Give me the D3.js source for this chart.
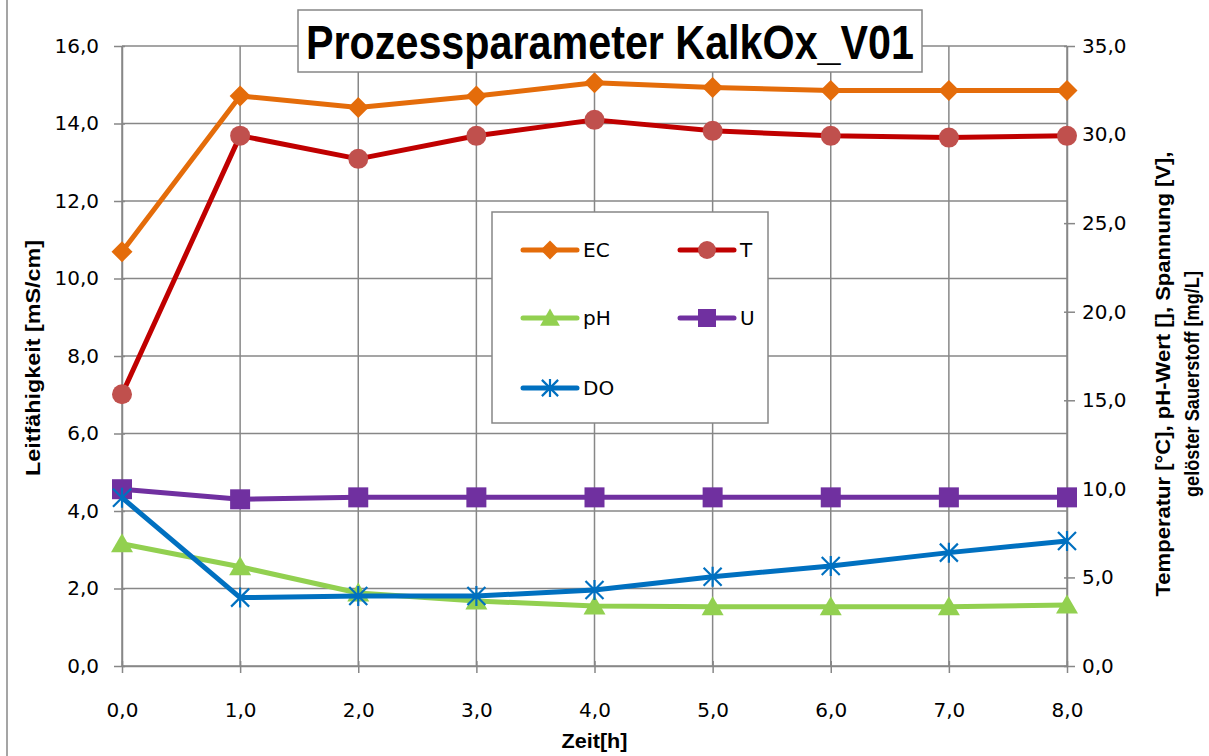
<!DOCTYPE html>
<html>
<head>
<meta charset="utf-8">
<script src="https://cdn.jsdelivr.net/npm/d3@7"></script>
<style>
  html, body { margin: 0; padding: 0; background: #ffffff; }
  svg { display: block; }
</style>
</head>
<body>
<svg id="chart" width="1209" height="756"></svg>
<script>
// ---- data ----
const hours = [0, 1, 2, 3, 4, 5, 6, 7, 8];
const ecValues = [10.69, 14.71, 14.41, 14.71, 15.05, 14.93, 14.85, 14.85, 14.85];
const tValues  = [15.34, 29.94, 28.63, 29.93, 30.83, 30.21, 29.93, 29.83, 29.93];
const phValues = [6.9, 5.6, 4.12, 3.67, 3.39, 3.35, 3.35, 3.35, 3.44];
const uValues  = [9.98, 9.41, 9.52, 9.52, 9.52, 9.52, 9.52, 9.52, 9.52];
const doValues = [9.5, 3.86, 3.95, 3.95, 4.29, 5.04, 5.65, 6.4, 7.06];
const leftTicks = [0, 2, 4, 6, 8, 10, 12, 14, 16];
const rightTicks = [0, 5, 10, 15, 20, 25, 30, 35];
const xTicks = [0, 1, 2, 3, 4, 5, 6, 7, 8];
const titleText = "Prozessparameter KalkOx_V01";
const leftTitle = "Leitfähigkeit [mS/cm]";
const rightTitle1 = "Temperatur [°C],  pH-Wert [], Spannung [V],";
const rightTitle2 = "gelöster Sauerstoff [mg/L]";
const xTitle = "Zeit[h]";

const series = [
  { name: "EC", values: ecValues, axis: "left",  line: "#E46C0A", fill: "#E46C0A", marker: "diamond" },
  { name: "T",  values: tValues,  axis: "right", line: "#C00000", fill: "#C0504D", marker: "circle" },
  { name: "pH", values: phValues, axis: "right", line: "#92D050", fill: "#92D050", marker: "triangle" },
  { name: "U",  values: uValues,  axis: "right", line: "#7030A0", fill: "#7030A0", marker: "square" },
  { name: "DO", values: doValues, axis: "right", line: "#0070C0", fill: "#0070C0", marker: "asterisk" }
];

// ---- layout ----
const plot = { left: 122, right: 1067, top: 46, bottom: 666 };
const gridColor = "#878787";
const font = "'DejaVu Sans', sans-serif";
const boldFont = "'Liberation Sans', Arial, sans-serif";
const fmt = d => d.toFixed(1).replace('.', ',');

const svg = d3.select("#chart");

const x = d3.scaleLinear().domain([0, 8]).range([plot.left, plot.right]);
const yL = d3.scaleLinear().domain([0, 16]).range([plot.bottom, plot.top]);
const yR = d3.scaleLinear().domain([0, 35]).range([plot.bottom, plot.top]);

// chart area border (left)
svg.append("line").attr("x1", 7).attr("x2", 7).attr("y1", 0).attr("y2", 756)
  .attr("stroke", gridColor).attr("stroke-width", 1.5);

// gridlines
const grid = svg.append("g");
grid.selectAll(".hg").data(leftTicks).enter().append("line")
  .attr("x1", plot.left).attr("x2", plot.right)
  .attr("y1", d => yL(d)).attr("y2", d => yL(d))
  .attr("stroke", gridColor).attr("stroke-width", 1.5);
grid.selectAll(".vg").data(xTicks).enter().append("line")
  .attr("x1", d => x(d)).attr("x2", d => x(d))
  .attr("y1", plot.top).attr("y2", plot.bottom)
  .attr("stroke", gridColor).attr("stroke-width", 1.5);

// axes
function styleAxis(g) {
  g.select(".domain").attr("stroke", gridColor).attr("stroke-width", 1.5);
  g.selectAll(".tick line").attr("stroke", gridColor).attr("stroke-width", 1.5);
  g.selectAll(".tick text").attr("fill", "#000").attr("font-family", font).attr("font-size", 20);
}
const axL = svg.append("g").attr("transform", `translate(${plot.left},0)`)
  .call(d3.axisLeft(yL).tickValues(leftTicks).tickFormat(fmt).tickSizeOuter(0).tickSizeInner(8).tickPadding(15));
styleAxis(axL);
axL.selectAll(".tick line").attr("x2", -8).attr("x1", 3);

const axR = svg.append("g").attr("transform", `translate(${plot.right},0)`)
  .call(d3.axisRight(yR).tickValues(rightTicks).tickFormat(fmt).tickSizeOuter(0).tickSizeInner(8).tickPadding(7));
styleAxis(axR);
axR.selectAll(".tick line").attr("x1", -3);

const axB = svg.append("g").attr("transform", `translate(0,${plot.bottom})`)
  .call(d3.axisBottom(x).tickValues(xTicks).tickFormat(fmt).tickSizeOuter(0).tickSizeInner(7).tickPadding(30));
styleAxis(axB);
axB.selectAll(".tick line").attr("y1", -5);

// axis titles
svg.append("text").text(leftTitle)
  .attr("transform", `translate(40,${(plot.top + plot.bottom) / 2 + 2}) rotate(-90)`)
  .attr("text-anchor", "middle").attr("font-family", boldFont).attr("font-weight", "bold")
  .attr("font-size", 21).attr("textLength", 236).attr("lengthAdjust", "spacingAndGlyphs");
svg.append("text").text(rightTitle1)
  .attr("transform", `translate(1170,374) rotate(-90)`)
  .attr("text-anchor", "middle").attr("font-family", boldFont).attr("font-weight", "bold")
  .attr("font-size", 21).attr("textLength", 445).attr("lengthAdjust", "spacingAndGlyphs");
svg.append("text").text(rightTitle2)
  .attr("transform", `translate(1199,384) rotate(-90)`)
  .attr("text-anchor", "middle").attr("font-family", boldFont).attr("font-weight", "bold")
  .attr("font-size", 21).attr("textLength", 226).attr("lengthAdjust", "spacingAndGlyphs");
svg.append("text").text(xTitle)
  .attr("x", (plot.left + plot.right) / 2).attr("y", 748)
  .attr("text-anchor", "middle").attr("font-family", boldFont).attr("font-weight", "bold")
  .attr("font-size", 21).attr("textLength", 66).attr("lengthAdjust", "spacingAndGlyphs");

// markers
function drawMarker(g, type, cx, cy, color, scale) {
  const s = scale || 1;
  if (type === "diamond") {
    const r = 10.5 * s;
    g.append("path").attr("d", `M${cx},${cy - r}L${cx + r},${cy}L${cx},${cy + r}L${cx - r},${cy}Z`).attr("fill", color);
  } else if (type === "circle") {
    g.append("circle").attr("cx", cx).attr("cy", cy).attr("r", 10 * s).attr("fill", color);
  } else if (type === "triangle") {
    const w = 11 * s, h = 19 * s;
    g.append("path").attr("d", `M${cx},${cy - h * 0.55}L${cx + w},${cy + h * 0.45}L${cx - w},${cy + h * 0.45}Z`).attr("fill", color);
  } else if (type === "square") {
    const h = 10 * s;
    g.append("rect").attr("x", cx - h).attr("y", cy - h).attr("width", 2 * h).attr("height", 2 * h).attr("fill", color);
  } else if (type === "asterisk") {
    const r = 10 * s;
    const dx = r * 0.9, dy = r * 0.9;
    g.append("path").attr("d",
      `M${cx},${cy - r}L${cx},${cy + r}M${cx - dx},${cy - dy}L${cx + dx},${cy + dy}M${cx - dx},${cy + dy}L${cx + dx},${cy - dy}`)
      .attr("stroke", color).attr("stroke-width", 2.2).attr("fill", "none");
  }
}

// series
series.forEach(s => {
  const y = s.axis === "left" ? yL : yR;
  const g = svg.append("g");
  const line = d3.line().x((d, i) => x(hours[i])).y(d => y(d));
  g.append("path").datum(s.values).attr("d", line)
    .attr("fill", "none").attr("stroke", s.line).attr("stroke-width", 5)
    .attr("stroke-linejoin", "round");
  s.values.forEach((v, i) => drawMarker(g, s.marker, x(hours[i]), y(v), s.fill));
});

// title box
svg.append("rect").attr("x", 298).attr("y", 10).attr("width", 624).attr("height", 62)
  .attr("fill", "#fff").attr("stroke", gridColor).attr("stroke-width", 1.5);
svg.append("text").text(titleText)
  .attr("x", 610).attr("y", 59).attr("text-anchor", "middle")
  .attr("font-family", boldFont).attr("font-weight", "bold").attr("font-size", 48)
  .attr("textLength", 608).attr("lengthAdjust", "spacingAndGlyphs");

// legend
const lg = svg.append("g");
lg.append("rect").attr("x", 492).attr("y", 212).attr("width", 276).attr("height", 211)
  .attr("fill", "#fff").attr("stroke", gridColor).attr("stroke-width", 1.5);
const legendPos = [
  { col: 0, row: 0 }, { col: 1, row: 0 },
  { col: 0, row: 1 }, { col: 1, row: 1 },
  { col: 0, row: 2 }
];
const rowY = [250, 318, 388];
const colX = [523, 680];
series.forEach((s, i) => {
  const p = legendPos[i];
  const x0 = colX[p.col], yy = rowY[p.row];
  lg.append("line").attr("x1", x0).attr("x2", x0 + 54).attr("y1", yy).attr("y2", yy)
    .attr("stroke", s.line).attr("stroke-width", 5).attr("stroke-linecap", "round");
  drawMarker(lg, s.marker, x0 + 27, yy, s.fill, 0.9);
  lg.append("text").text(s.name).attr("x", x0 + 60).attr("y", yy + 7)
    .attr("font-family", font).attr("font-size", 20).attr("fill", "#000");
});
</script>
</body>
</html>
